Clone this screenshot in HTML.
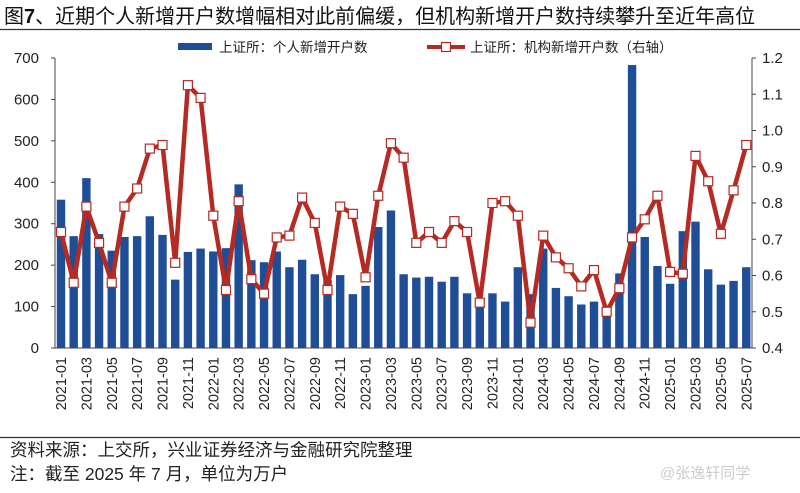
<!DOCTYPE html>
<html><head><meta charset="utf-8"><style>
body{margin:0;background:#fff;width:800px;height:488px;overflow:hidden;font-family:"Liberation Sans","Noto Sans CJK SC",sans-serif;}
</style></head><body>
<svg id="s" width="800" height="488" xmlns="http://www.w3.org/2000/svg" font-family="Liberation Sans, Noto Sans CJK SC, sans-serif">
<text x="4" y="23" font-size="20" fill="#111">图<tspan font-weight="bold">7</tspan>、近期个人新增开户数增幅相对此前偏缓，但机构新增开户数持续攀升至近年高位</text>
<line x1="0" y1="29.5" x2="800" y2="29.5" stroke="#333" stroke-width="1.2"/>
<line x1="0" y1="437.5" x2="800" y2="437.5" stroke="#333" stroke-width="1.2"/>
<text x="10" y="456" font-size="17.5" fill="#222">资料来源：上交所，兴业证券经济与金融研究院整理</text>
<text x="10" y="480" font-size="17.5" fill="#222">注：截至 2025 年 7 月，单位为万户</text>
<text x="660" y="478" font-size="15" fill="#ccc">@张逸轩同学</text>
<rect x="178" y="43" width="34" height="7" fill="#1f4e96"/>
<text x="219" y="52" font-size="13.5" fill="#222">上证所：个人新增开户数</text>
<line x1="427" y1="47" x2="465" y2="47" stroke="#b52a22" stroke-width="4"/>
<rect x="441.5" y="42.5" width="9" height="9" fill="#fff" stroke="#b52a22" stroke-width="1.2"/>
<text x="470" y="52" font-size="13.5" fill="#222">上证所：机构新增开户数（右轴）</text>
<g id="g"></g>
</svg>
<script>
var bars=[358,270,410,275,235,268,270,318,273,165,232,240,233,241,395,212,207,233,195,213,178,164,176,130,150,292,332,178,170,172,160,172,132,100,132,112,195,130,240,145,125,105,112,100,180,683,268,198,155,282,305,190,153,162,195];
var line=[0.72,0.58,0.79,0.69,0.58,0.79,0.84,0.95,0.96,0.635,1.125,1.09,0.765,0.56,0.805,0.59,0.55,0.705,0.71,0.815,0.745,0.56,0.79,0.77,0.595,0.82,0.965,0.925,0.69,0.72,0.69,0.75,0.72,0.525,0.8,0.805,0.765,0.47,0.71,0.65,0.62,0.57,0.615,0.50,0.565,0.705,0.755,0.82,0.61,0.605,0.93,0.86,0.715,0.835,0.96];
var L=55,R=752,T=58,B=348,h='';
function yl(v){return B-(v/700)*(B-T);}
function yr(v){return B-((v-0.4)/0.8)*(B-T);}
function xc(i){return 61+i*12.69;}
h+='<line x1="'+L+'" y1="'+T+'" x2="'+L+'" y2="'+B+'" stroke="#444"/>';
h+='<line x1="'+R+'" y1="'+T+'" x2="'+R+'" y2="'+B+'" stroke="#444"/>';
for(var v=0;v<=700;v+=100){var y=yl(v);h+='<line x1="'+(L-4)+'" y1="'+y+'" x2="'+L+'" y2="'+y+'" stroke="#444"/><text x="'+(L-16)+'" y="'+(y+5)+'" font-size="15" text-anchor="end" fill="#222">'+v+'</text>';}
for(var k=0;k<=8;k++){var r=0.4+k*0.1;var y=yr(r);h+='<line x1="'+R+'" y1="'+y+'" x2="'+(R+4)+'" y2="'+y+'" stroke="#444"/><text x="'+(R+10)+'" y="'+(y+5)+'" font-size="15" fill="#222">'+r.toFixed(1)+'</text>';}
for(var i=0;i<bars.length;i++){var x=xc(i),y=yl(bars[i]);h+='<rect x="'+(x-4.2)+'" y="'+y+'" width="8.4" height="'+(B-y)+'" fill="#1f4e96"/>';}
h+='<line x1="'+L+'" y1="'+B+'" x2="'+R+'" y2="'+B+'" stroke="#444"/>';
var p='';for(var i=0;i<line.length;i++){p+=(i?'L':'M')+xc(i)+' '+yr(line[i]);}
h+='<path d="'+p+'" fill="none" stroke="#b52a22" stroke-width="4.5" stroke-linejoin="round"/>';
for(var i=0;i<line.length;i++){var x=xc(i),y=yr(line[i]);h+='<rect x="'+(x-4.5)+'" y="'+(y-4.5)+'" width="9" height="9" fill="#fff" stroke="#b52a22" stroke-width="1.2"/>';}
for(var i=0;i<bars.length;i+=2){var yr0=2021+Math.floor(i/12),m=i%12+1;var s=yr0+'-'+(m<10?'0':'')+m;var x=xc(i)+5;h+='<text transform="translate('+x+',357) rotate(-90)" font-size="14.5" text-anchor="end" fill="#222">'+s+'</text>';}
document.getElementById('g').innerHTML=h;
</script>
</body></html>
